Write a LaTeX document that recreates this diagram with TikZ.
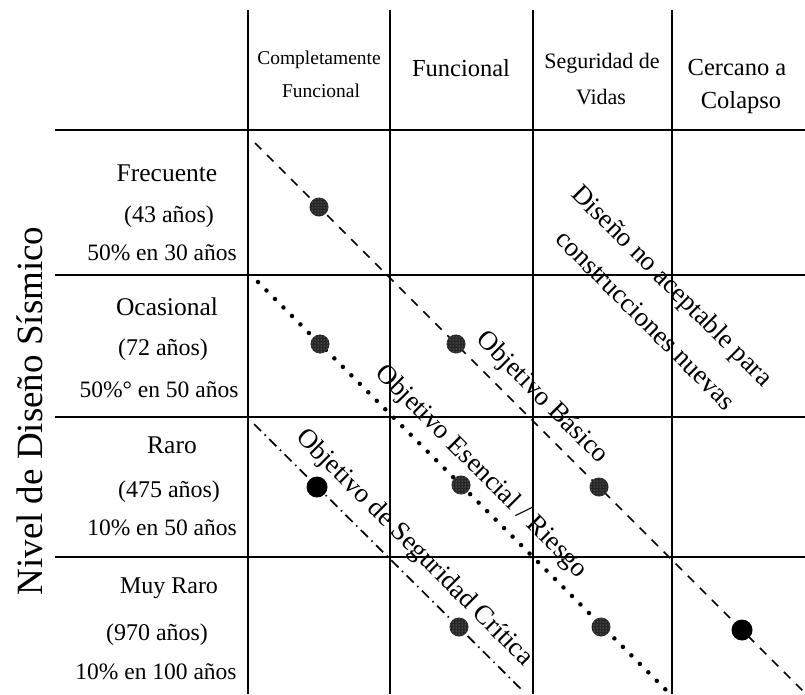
\documentclass[tikz,border=0pt]{standalone}
\usepackage{fontspec}
\setmainfont{Liberation Serif}
\usetikzlibrary{patterns}
\begin{document}
\begin{tikzpicture}[x=1pt,y=-1pt,
  gridline/.style={line width=2.6pt,black},
  basico/.style={line width=1.5pt,dash pattern=on 9pt off 8pt},
  esencial/.style={line width=4.5pt,dash pattern=on 0pt off 12pt,line cap=round},
  critica/.style={line width=1.7pt,dash pattern=on 10pt off 5pt on 1.5pt off 5pt},
  gdot/.style={circle,minimum size=19pt,inner sep=0pt,fill=black!85,postaction={pattern=dots,pattern color=white!70!black}},
  bdot/.style={circle,minimum size=21pt,inner sep=0pt,fill=black},
  diag/.style={rotate=-45,inner sep=0pt,font=\fontsize{27}{32}\selectfont},
  hsmall/.style={inner sep=0pt,font=\fontsize{19.5}{22}\selectfont},
  hmid/.style={inner sep=0pt,font=\fontsize{22}{26}\selectfont},
  hbig/.style={inner sep=0pt,font=\fontsize{24.5}{28}\selectfont},
  rfirst/.style={inner sep=0pt,font=\fontsize{25.5}{30}\selectfont},
  rsec/.style={inner sep=0pt,font=\fontsize{24}{28}\selectfont},
  rthird/.style={inner sep=0pt,font=\fontsize{23.5}{28}\selectfont}]
\useasboundingbox (0,0) rectangle (805,694);
\fill[white] (0,0) rectangle (805,694);

% grid
\foreach \y in {130,275,417,557} \draw[gridline] (55,\y) -- (805,\y);
\foreach \x in {248,390,533,672} \draw[gridline] (\x,10) -- (\x,694);

% header
\node[hsmall] (h1a) at (319,60) {Completamente};
\node[hsmall] (h1b) at (321,91) {Funcional};
\node[hbig] (h2) at (461,68) {Funcional};
\node[hmid] (h3a) at (602,63) {Seguridad de};
\node[hmid] (h3b) at (601,97) {Vidas};
\node[hbig] (h4a) at (737,68) {Cercano a};
\node[hbig] (h4b) at (741,103) {Colapso};

% row labels
\node[rfirst] (r1a) at (167,173) {Frecuente};
\node[rsec] (r1b) at (169,217) {(43 años)};
\node[rthird] (r1c) at (162,253) {50\% en 30 años};
\node[rfirst] (r2a) at (167,307) {Ocasional};
\node[rsec] (r2b) at (163,350) {(72 años)};
\node[rthird] (r2c) at (159,390) {50\%° en 50 años};
\node[rfirst] (r3a) at (172,445) {Raro};
\node[rsec] (r3b) at (169,492) {(475 años)};
\node[rthird] (r3c) at (162,528) {10\% en 50 años};
\node[rsec] (r4a) at (169,588) {Muy Raro};
\node[rsec] (r4b) at (157,635) {(970 años)};
\node[rthird] (r4c) at (156,672) {10\% en 100 años};

% vertical title
\node[rotate=90,anchor=base,inner sep=0pt,font=\fontsize{37}{40}\selectfont] (title) at (42,411) {Nivel de Diseño Sísmico};

% objective lines
\coordinate (bs) at (255,143);
\coordinate (be) at (805,693);
\coordinate (es) at (258,282);
\coordinate (ee) at (666,690);
\coordinate (cs) at (254,424);
\coordinate (ce) at (524,692);
\draw[basico] (bs) -- (be);
\draw[esencial] (es) -- (ee);
\draw[critica] (cs) -- (ce);

% dots
\node[gdot] (b1) at (319,207) {};
\node[gdot] (b2) at (456,344) {};
\node[gdot] (b3) at (599,487) {};
\node[bdot] (b4) at (742,630) {};
\node[gdot] (e1) at (320,344) {};
\node[gdot] (e2) at (461,485) {};
\node[gdot] (e3) at (601,627) {};
\node[bdot] (c1) at (317,487) {};
\node[gdot] (c2) at (459,627) {};

% diagonal labels
\node[diag] (lb) at (542,398) {Objetivo Básico};
\node[diag] (le) at (481,472) {Objetivo Esencial / Riesgo};
\node[diag] (lc) at (414,548) {Objetivo de Seguridad Crítica};
\node[diag] (ln1) at (671,287) {Diseño no aceptable para};
\node[diag] (ln2) at (646,320) {construcciones nuevas};
\end{tikzpicture}
\end{document}
